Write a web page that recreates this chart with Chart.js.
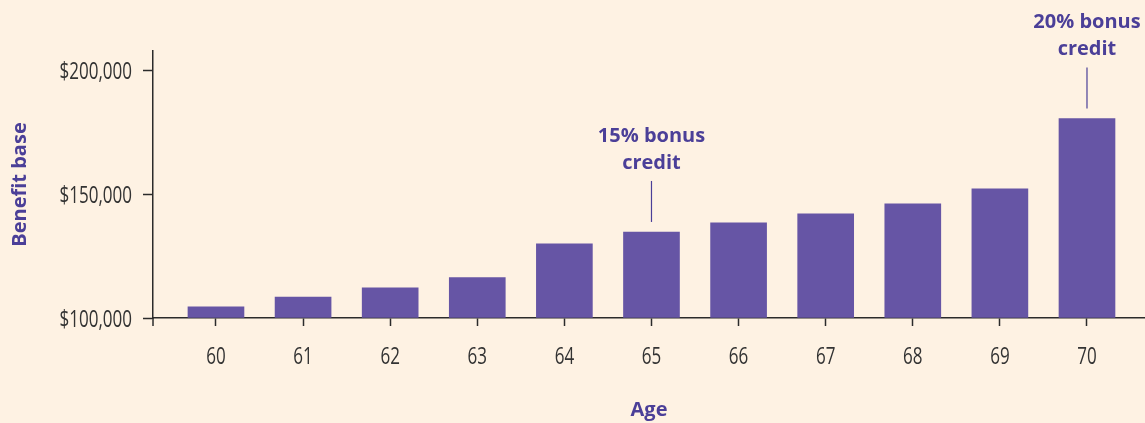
<!DOCTYPE html>
<html lang="en">
<head>
  <meta charset="UTF-8">
  <title>Benefit base by age</title>
  <script src="https://cdn.jsdelivr.net/npm/chart.js"></script>
  <style>
    * { margin: 0; padding: 0; box-sizing: border-box; }
    body { background: #fef2e3; }
    #wrap { position: relative; width: 1145px; height: 423px; }
  </style>
</head>
<body>
  <div id="wrap"><canvas id="chart"></canvas></div>
  <script>
    // --- data ---
    const ages = [60, 61, 62, 63, 64, 65, 66, 67, 68, 69, 70];
    const benefitBase = [104500, 108500, 112200, 116300, 130000, 134800, 138500, 142100, 146200, 152200, 180700];
    const yTicks = [100000, 150000, 200000];
    const bonusAges = [65, 70];
    const bonusLabels = [['15% bonus', 'credit'], ['20% bonus', 'credit']];

    const purple = '#6655a5';
    const titlePurple = '#4b3f98';
    const axisColor = '#2b2b2b';
    const bold = "'Open Sans', 'Noto Sans', sans-serif";

    // tick labels: no condensed face is installed, so squeeze the text horizontally
    const condensedLabels = {
      id: 'condensedLabels',
      afterDraw(chart) {
        const { ctx, scales: { x, y } } = chart;
        ctx.save();
        ctx.fillStyle = '#333';
        ctx.font = "23px 'Open Sans', sans-serif";
        ctx.textBaseline = 'middle';
        const put = (text, px, py, align) => {
          ctx.save();
          ctx.translate(px, py);
          ctx.scale(0.74, 1);
          ctx.textAlign = align;
          ctx.fillText(text, 0, 0);
          ctx.restore();
        };
        x.ticks.forEach(t => put(String(t.value), x.getPixelForValue(t.value), y.bottom + 39, 'center'));
        y.ticks.forEach(t => put('$' + t.value.toLocaleString('en-US'), x.left - 21, y.getPixelForValue(t.value) + 2, 'right'));
        // short stub of the y axis below the x axis
        ctx.strokeStyle = axisColor;
        ctx.lineWidth = 1.5;
        ctx.beginPath();
        ctx.moveTo(x.left, y.bottom);
        ctx.lineTo(x.left, y.bottom + 8);
        ctx.stroke();
        ctx.restore();
      }
    };

    // draws the "bonus credit" callouts above the bars
    const bonusNotes = {
      id: 'bonusNotes',
      afterDatasetsDraw(chart) {
        const { ctx, scales: { x, y } } = chart;
        ctx.save();
        bonusAges.forEach((age, i) => {
          const px = x.getPixelForValue(age);
          const top = y.getPixelForValue(benefitBase[ages.indexOf(age)]);
          ctx.strokeStyle = titlePurple;
          ctx.lineWidth = 1.2;
          ctx.beginPath();
          ctx.moveTo(px, top - 10);
          ctx.lineTo(px, top - 51);
          ctx.stroke();
          ctx.fillStyle = titlePurple;
          ctx.font = "bold 20px " + bold;
          ctx.textAlign = 'center';
          ctx.textBaseline = 'middle';
          ctx.fillText(bonusLabels[i][0], px, top - 96);
          ctx.fillText(bonusLabels[i][1], px, top - 69);
        });
        ctx.restore();
      }
    };

    new Chart(document.getElementById('chart'), {
      type: 'bar',
      data: {
        datasets: [{
          data: ages.map((a, i) => ({ x: a, y: benefitBase[i] })),
          backgroundColor: purple,
          barThickness: 56,
          base: 100000
        }]
      },
      options: {
        responsive: true,
        maintainAspectRatio: false,
        animation: false,
        layout: { padding: { top: 51, right: 0, left: 0, bottom: 0 } },
        plugins: { legend: { display: false }, tooltip: { enabled: false } },
        scales: {
          x: {
            type: 'linear',
            offset: false,
            min: 59.277,
            max: 70.666,
            afterFit: s => { s.height = 105; },
            border: { display: true, color: axisColor, width: 1.5 },
            grid: { offset: false, drawOnChartArea: false, drawTicks: true, tickLength: 8, tickColor: axisColor, tickWidth: 1.5 },
            ticks: { display: false, stepSize: 1, includeBounds: false, autoSkip: false },
            title: {
              display: true,
              text: 'Age',
              color: titlePurple,
              font: { family: bold, size: 20, weight: 'bold' },
              padding: { top: 0, bottom: 1 }
            }
          },
          y: {
            min: 100000,
            max: 208000,
            afterFit: s => { s.width = 153; },
            afterBuildTicks: s => { s.ticks = yTicks.map(v => ({ value: v })); },
            border: { display: true, color: axisColor, width: 1.5 },
            grid: { drawOnChartArea: false, drawTicks: true, tickLength: 10, tickColor: axisColor, tickWidth: 1.5 },
            ticks: { display: false },
            title: {
              display: true,
              text: 'Benefit base',
              color: titlePurple,
              font: { family: bold, size: 20, weight: 'bold' },
              padding: { top: 8, bottom: 0 }
            }
          }
        }
      },
      plugins: [bonusNotes, condensedLabels]
    });
  </script>
</body>
</html>
